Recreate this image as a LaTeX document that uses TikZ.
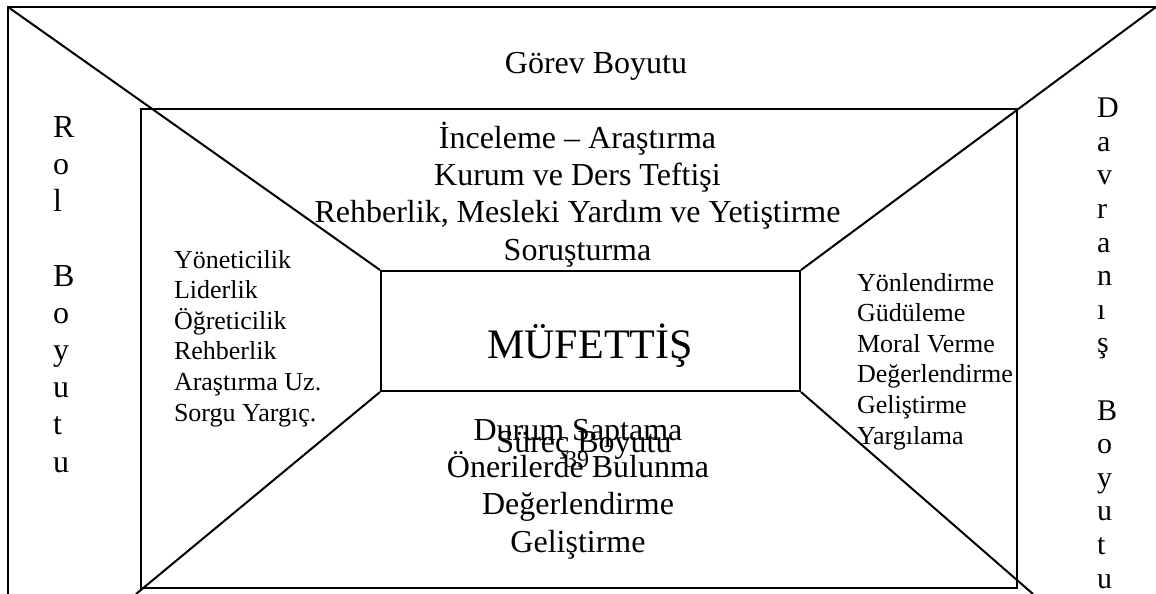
\documentclass[tikz,border=0pt]{standalone}
\usepackage{fontspec}
\setmainfont{Liberation Serif}
\usetikzlibrary{positioning}

\begin{document}
\begin{tikzpicture}[x=0.5pt,y=-0.5pt,line width=1pt]
	\tikzstyle{kutu}=[draw,inner sep=0pt]
	\tikzstyle{yazi}=[inner sep=0pt,anchor=base,align=center,
	font=\fontsize{16}{18.6}\selectfont
	]
	\tikzstyle{liste}=[yazi,anchor=base west,align=left,font=\fontsize{13}{15.3}\selectfont];
	\tikzstyle{harf}=[yazi,anchor=base west,align=left];
\useasboundingbox (0,0) rectangle (1156,594);

% dis cerceve
\coordinate (sol ust) at (8,7);
\coordinate (sag ust) at (1156,7);
\coordinate (sol dip) at (8,594);
\coordinate (sol alt) at (136,594);
\coordinate (sag alt) at (1033,594);
\draw (sol dip) -- (sol ust) -- (sag ust);

\node[kutu,minimum width=438pt,minimum height=239.5pt](gorev) at (579,348.5){};
\node[kutu,minimum width=209.5pt,minimum height=60pt](mufettis) at (590.5,331){};
\node[yazi,font=\fontsize{21}{24}\selectfont](baslik) at (590,358){MÜFETTİŞ};

\draw (sol ust) -- (mufettis.north west);
\draw (sag ust) -- (mufettis.north east);
\draw (mufettis.south west) -- (sol alt);
\draw (mufettis.south east) -- (sag alt);

% base = son satirin tabani
\node[yazi](gorev boyutu) at (596,73){Görev Boyutu};
\node[yazi](ust) at (577.5,260){İnceleme – Araştırma\\Kurum ve Ders Teftişi\\Rehberlik, Mesleki Yardım ve Yetiştirme\\Soruşturma};
\node[yazi](alt) at (578,552){Durum Saptama\\Önerilerde Bulunma\\Değerlendirme\\Geliştirme};
\node[yazi](surec) at (584,452){Süreç Boyutu};
\node[yazi,font=\fontsize{12}{14}\selectfont](sayfa) at (577,467){39};

\node[liste](rol list) at (173,421){Yöneticilik\\Liderlik\\Öğreticilik\\Rehberlik\\Araştırma Uz.\\Sorgu Yargıç.};
\node[liste](davranis list) at (856,444){Yönlendirme\\Güdüleme\\Moral Verme\\Değerlendirme\\Geliştirme\\Yargılama};

\node[harf](rol) at (52,472){R\\o\\l\\{}\\B\\o\\y\\u\\t\\u};
\node[harf,font=\fontsize{15}{16.8}\selectfont](davranis) at (1096,588){D\\a\\v\\r\\a\\n\\ı\\ş\\{}\\B\\o\\y\\u\\t\\u};

\end{tikzpicture}
\end{document}
